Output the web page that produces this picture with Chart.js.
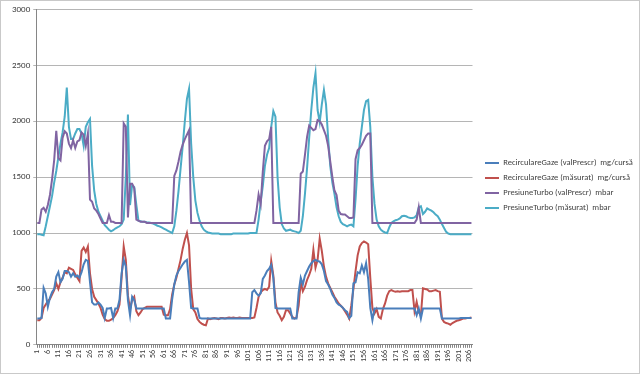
<!DOCTYPE html>
<html>
<head>
<meta charset="utf-8">
<script src="https://cdn.jsdelivr.net/npm/chart.js@4.4.1/dist/chart.umd.min.js"></script>
<style>
  html, body { margin: 0; padding: 0; background: #fff; }
  .frame { width: 640px; height: 374px; box-sizing: border-box; border: 1px solid #c9c9c9; }
  canvas { display: block; }
</style>
</head>
<body>
<div class="frame"><canvas id="chart" width="638" height="372"></canvas></div>
<script>
// categories: sample number 1..207
const categories = Array.from({ length: 207 }, (_, i) => String(i + 1));

const yTicks = [0, 500, 1000, 1500, 2000, 2500, 3000];

const seriesNames = [
  'RecirculareGaze (valPrescr)  mg/cursă',
  'RecirculareGaze (măsurat)  mg/cursă',
  'PresiuneTurbo (valPrescr)  mbar',
  'PresiuneTurbo (măsurat)  mbar'
];

// RecirculareGaze (valPrescr)
const recircPrescr = [
  235, 235, 240, 510, 460, 340, 420, 470, 500, 610,
  650, 560, 590, 660, 660, 650, 610, 640, 610, 620,
  600, 650, 720, 760, 750, 560, 380, 360, 360, 380,
  360, 330, 240, 325, 325, 330, 240, 325, 325, 400,
  640, 760, 700, 400, 265, 430, 400, 325, 325, 325,
  325, 325, 325, 325, 325, 325, 325, 325, 325, 325,
  325, 235, 235, 235, 410, 540, 620, 660, 690, 720,
  745, 760, 560, 330, 325, 325, 325, 240, 235, 235,
  235, 235, 235, 235, 235, 235, 235, 235, 235, 235,
  235, 235, 235, 235, 235, 235, 235, 235, 235, 235,
  235, 235, 470, 490, 460, 440, 460, 590, 620, 660,
  680, 715, 600, 330, 325, 325, 325, 325, 325, 325,
  325, 235, 235, 235, 470, 600, 540, 620, 660, 700,
  730, 750, 760, 750, 745, 720, 660, 570, 540, 500,
  450, 420, 380, 360, 350, 330, 310, 295, 240, 260,
  550, 560, 650, 640, 710, 650, 730, 590, 330, 220,
  325, 325, 325, 325, 325, 325, 325, 325, 325, 325,
  325, 325, 325, 325, 325, 325, 325, 325, 325, 325,
  265, 325, 235, 325, 325, 325, 325, 325, 325, 325,
  325, 325, 235, 235, 235, 235, 235, 235, 235, 235,
  235, 240, 240, 240, 240, 240, 240
];

// RecirculareGaze (masurat)
const recircMasurat = [
  220, 220, 240, 330, 360, 390, 410, 450, 490, 550,
  500, 560, 600, 650, 640, 690, 680, 670, 630, 600,
  570, 840, 870, 830, 880, 640, 500, 430, 400, 370,
  330, 270, 230, 215, 215, 225, 240, 265, 300, 360,
  600, 880, 760, 440, 320, 400, 430, 300, 265, 290,
  320, 330, 340, 340, 340, 340, 340, 340, 340, 340,
  270, 265, 265, 320, 450, 540, 600, 680, 760, 860,
  940, 1000, 890, 500, 320, 290, 230, 205, 190, 180,
  175, 235, 230, 235, 240, 235, 230, 240, 240, 235,
  240, 245, 240, 245, 240, 240, 245, 240, 240, 240,
  240, 240, 240, 245, 330, 430, 470, 490, 500, 490,
  520, 750, 620, 380, 290, 260, 220, 250, 310, 310,
  280, 250, 235, 245, 350, 560, 480, 520, 580, 625,
  680, 850, 690, 760, 950, 840, 700, 610, 550, 510,
  470, 430, 400, 370, 350, 330, 300, 270, 235, 355,
  500, 660, 800, 880, 910, 925, 915, 900, 600, 330,
  280, 320, 250, 235, 320, 370, 440, 480, 490, 480,
  475, 480, 475, 480, 480, 480, 480, 490, 490, 300,
  385, 290, 265, 505, 500, 495, 480, 480, 485, 490,
  480, 475, 235, 205, 195, 190, 180, 195, 205, 215,
  220, 225, 235, 235, 240, 240, 245
];

// PresiuneTurbo (valPrescr)
const turboPrescr = [
  1090, 1090, 1210, 1225, 1190, 1250, 1340, 1480, 1650, 1915,
  1670, 1650, 1850, 1910, 1890, 1800, 1760, 1830, 1760, 1820,
  1830, 1900, 1880, 1780, 1890, 1300, 1280, 1220, 1200, 1170,
  1130, 1090, 1090, 1090, 1160, 1100, 1100, 1090, 1090, 1090,
  1090, 1980, 1950, 1140, 1440, 1440, 1400, 1120, 1110, 1100,
  1100, 1100, 1090, 1090, 1090, 1090, 1090, 1090, 1090, 1090,
  1090, 1090, 1090, 1090, 1090, 1510, 1560, 1640, 1730, 1790,
  1840, 1880, 1920, 1090, 1090, 1090, 1090, 1090, 1090, 1090,
  1090, 1090, 1090, 1090, 1090, 1090, 1090, 1090, 1090, 1090,
  1090, 1090, 1090, 1090, 1090, 1090, 1090, 1090, 1090, 1090,
  1090, 1090, 1090, 1090, 1200, 1345, 1260, 1550, 1780, 1820,
  1840, 1950, 1090, 1090, 1090, 1090, 1090, 1090, 1090, 1090,
  1090, 1090, 1090, 1090, 1090, 1530, 1550, 1700, 1860, 1960,
  1940, 1920, 1930, 2010, 2000, 1970, 1920, 1870, 1780, 1640,
  1500, 1380, 1340, 1200, 1170, 1165, 1165, 1150, 1135, 1135,
  1140, 1660, 1740, 1760, 1790, 1830, 1870, 1890, 1890, 1090,
  1090, 1090, 1090, 1090, 1090, 1090, 1090, 1090, 1090, 1090,
  1090, 1090, 1090, 1090, 1090, 1090, 1090, 1090, 1090, 1090,
  1120, 1230, 1090, 1090, 1090, 1090, 1090, 1090, 1090, 1090,
  1090, 1090, 1090, 1090, 1090, 1090, 1090, 1090, 1090, 1090,
  1090, 1090, 1090, 1090, 1090, 1090, 1090
];

// PresiuneTurbo (masurat)
const turboMasurat = [
  990, 990, 985, 980, 1060, 1150, 1240, 1330, 1450, 1555,
  1680, 1800, 1900, 2040, 2300, 1950, 1840, 1840, 1890, 1930,
  1930, 1890, 1780, 1950, 1990, 2020, 1600, 1380, 1260, 1190,
  1150, 1110, 1070, 1050, 1030, 1015, 1025, 1040, 1050, 1060,
  1080, 1120, 1500, 2060, 1250, 1430, 1410, 1250, 1110, 1105,
  1100, 1100, 1095, 1095, 1090, 1085, 1075, 1065, 1060, 1050,
  1040, 1030, 1020, 1010, 1000, 1060, 1200, 1375, 1580, 1780,
  2000, 2200, 2290, 1800, 1500, 1290, 1180, 1110, 1060, 1030,
  1015, 1005, 1000, 995, 995, 995, 995, 990, 990, 990,
  990, 990, 990, 995, 995, 995, 995, 995, 995, 995,
  995, 1000, 1000, 1000, 1000, 1120, 1280, 1420, 1600, 1700,
  1760, 1950, 2090, 2040, 1500, 1230, 1080, 1040, 1020, 1025,
  1030, 1020, 1015, 1010, 1000, 1020, 1150, 1350, 1580, 1850,
  2100, 2300, 2430, 2100, 1990, 2150, 2280, 2150, 1850, 1600,
  1450, 1350, 1230, 1150, 1100, 1080, 1070, 1060, 1070, 1075,
  1060, 1300, 1600, 1800, 1950, 2100, 2180, 2190, 1950, 1500,
  1260, 1120, 1060, 1030, 1015, 1005, 1000, 1050, 1090, 1105,
  1115, 1120, 1130, 1150, 1155, 1150, 1140, 1135, 1135, 1140,
  1160, 1230, 1240, 1170, 1190, 1220, 1210, 1200, 1185, 1165,
  1150, 1120, 1080, 1045, 1010, 995, 990, 990, 990, 990,
  990, 990, 990, 990, 990, 990, 990
];

const seriesValues = [recircPrescr, recircMasurat, turboPrescr, turboMasurat];
const seriesColors = ['#4a7ebb', '#c0504d', '#8064a2', '#4bacc6'];

Chart.defaults.font.family = "Carlito, 'Liberation Sans', Arial, sans-serif";
Chart.defaults.color = '#404040';

// leave a small gap between the plot area and the legend, like Excel does
const legendGap = {
  id: 'legendGap',
  afterLayout(chart) {
    const lg = chart.legend;
    if (!lg) return;
    lg.left += 6;
    lg.right += 6;
  }
};

const ctx = document.getElementById('chart').getContext('2d');
new Chart(ctx, {
  type: 'line',
  data: {
    labels: categories,
    datasets: seriesValues.map((values, i) => ({
      label: seriesNames[i],
      data: values,
      borderColor: seriesColors[i],
      backgroundColor: seriesColors[i],
      borderWidth: 2,
      pointRadius: 0,
      tension: 0
    }))
  },
  plugins: [legendGap],
  options: {
    responsive: false,
    animation: false,
    layout: { padding: { left: 8, right: 12, top: 6, bottom: 9 } },
    plugins: {
      legend: {
        position: 'right',
        labels: {
          usePointStyle: true,
          pointStyle: 'line',
          pointStyleWidth: 14,
          boxHeight: 8,
          padding: 6.5,
          font: { size: 8.5 },
          color: '#404040'
        }
      },
      tooltip: { enabled: false }
    },
    scales: {
      x: {
        offset: true,
        grid: { drawOnChartArea: false, tickLength: 3, color: '#868686' },
        border: { color: '#868686' },
        ticks: {
          autoSkip: false,
          maxRotation: 90,
          minRotation: 90,
          padding: 2,
          font: { size: 8 },
          callback: (v, i) => (i % 5 === 0 ? categories[i] : '')
        }
      },
      y: {
        min: yTicks[0],
        max: yTicks[yTicks.length - 1],
        ticks: { stepSize: 500, padding: 3, font: { size: 9 }, callback: v => String(v) },
        grid: { color: '#b5b5b5', tickLength: 3 },
        border: { color: '#868686' }
      }
    }
  }
});
</script>
</body>
</html>
